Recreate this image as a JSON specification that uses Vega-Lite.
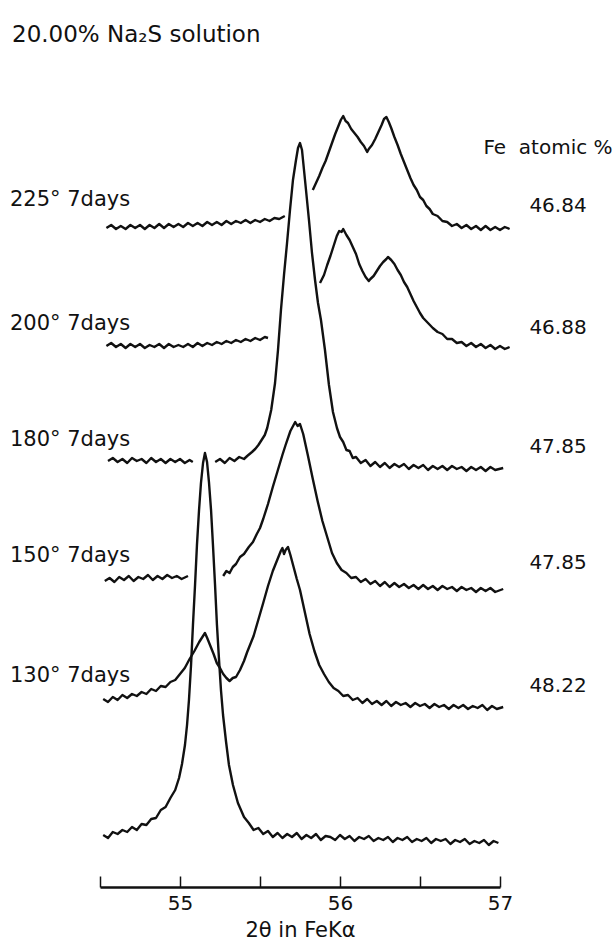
{
"$schema": "https://vega.github.io/schema/vega-lite/v6.json",
"width": 400, "height": 827,
"autosize": {"type": "none"},
"padding": {"left": 100, "top": 60, "right": 113, "bottom": 53},
"background": "white",
"config": {"view": {"stroke": null}, "font": "DejaVu Sans"},
"title": {"text": "20.00% Na₂S  solution", "anchor": "start", "frame": "group", "dx": -88, "offset": 13, "fontSize": 23, "fontWeight": "normal", "color": "#111", "font": "DejaVu Sans"},
"datasets": {
"traces": [
{"seg":"ref","x":54.52,"y":52},{"seg":"ref","x":54.55,"y":49},{"seg":"ref","x":54.58,"y":55},{"seg":"ref","x":54.61,"y":53},{"seg":"ref","x":54.64,"y":57},{"seg":"ref","x":54.67,"y":55},{"seg":"ref","x":54.70,"y":60},{"seg":"ref","x":54.73,"y":57},{"seg":"ref","x":54.76,"y":63},{"seg":"ref","x":54.79,"y":62},{"seg":"ref","x":54.82,"y":68},{"seg":"ref","x":54.85,"y":69},{"seg":"ref","x":54.88,"y":77},{"seg":"ref","x":54.91,"y":80},{"seg":"ref","x":54.94,"y":89},{"seg":"ref","x":54.97,"y":97},{"seg":"ref","x":54.994,"y":109},{"seg":"ref","x":55.0125,"y":123},{"seg":"ref","x":55.031,"y":142},{"seg":"ref","x":55.044,"y":162},{"seg":"ref","x":55.056,"y":187},{"seg":"ref","x":55.069,"y":222},{"seg":"ref","x":55.081,"y":262},{"seg":"ref","x":55.094,"y":302},{"seg":"ref","x":55.106,"y":342},{"seg":"ref","x":55.119,"y":377},{"seg":"ref","x":55.131,"y":404},{"seg":"ref","x":55.144,"y":424},{"seg":"ref","x":55.156,"y":434},{"seg":"ref","x":55.169,"y":425},{"seg":"ref","x":55.181,"y":405},{"seg":"ref","x":55.194,"y":377},{"seg":"ref","x":55.206,"y":342},{"seg":"ref","x":55.219,"y":302},{"seg":"ref","x":55.231,"y":262},{"seg":"ref","x":55.244,"y":227},{"seg":"ref","x":55.256,"y":197},{"seg":"ref","x":55.269,"y":172},{"seg":"ref","x":55.288,"y":145},{"seg":"ref","x":55.306,"y":122},{"seg":"ref","x":55.331,"y":102},{"seg":"ref","x":55.362,"y":84},{"seg":"ref","x":55.4,"y":70},{"seg":"ref","x":55.43,"y":64},{"seg":"ref","x":55.46,"y":57},{"seg":"ref","x":55.49,"y":59},{"seg":"ref","x":55.52,"y":53},{"seg":"ref","x":55.55,"y":56},{"seg":"ref","x":55.58,"y":50},{"seg":"ref","x":55.61,"y":54},{"seg":"ref","x":55.64,"y":49},{"seg":"ref","x":55.67,"y":53},{"seg":"ref","x":55.70,"y":50},{"seg":"ref","x":55.73,"y":54},{"seg":"ref","x":55.76,"y":48},{"seg":"ref","x":55.79,"y":52},{"seg":"ref","x":55.82,"y":49},{"seg":"ref","x":55.85,"y":53},{"seg":"ref","x":55.88,"y":47},{"seg":"ref","x":55.91,"y":51},{"seg":"ref","x":55.94,"y":50},{"seg":"ref","x":55.97,"y":47},{"seg":"ref","x":56.00,"y":52},{"seg":"ref","x":56.03,"y":48},{"seg":"ref","x":56.06,"y":51},{"seg":"ref","x":56.09,"y":46},{"seg":"ref","x":56.12,"y":50},{"seg":"ref","x":56.15,"y":48},{"seg":"ref","x":56.18,"y":51},{"seg":"ref","x":56.21,"y":46},{"seg":"ref","x":56.24,"y":49},{"seg":"ref","x":56.27,"y":47},{"seg":"ref","x":56.30,"y":50},{"seg":"ref","x":56.33,"y":45},{"seg":"ref","x":56.36,"y":49},{"seg":"ref","x":56.39,"y":47},{"seg":"ref","x":56.42,"y":50},{"seg":"ref","x":56.45,"y":45},{"seg":"ref","x":56.48,"y":48},{"seg":"ref","x":56.51,"y":46},{"seg":"ref","x":56.54,"y":49},{"seg":"ref","x":56.57,"y":44},{"seg":"ref","x":56.60,"y":48},{"seg":"ref","x":56.63,"y":46},{"seg":"ref","x":56.66,"y":48},{"seg":"ref","x":56.69,"y":43},{"seg":"ref","x":56.72,"y":47},{"seg":"ref","x":56.75,"y":45},{"seg":"ref","x":56.78,"y":48},{"seg":"ref","x":56.81,"y":43},{"seg":"ref","x":56.84,"y":46},{"seg":"ref","x":56.87,"y":44},{"seg":"ref","x":56.90,"y":47},{"seg":"ref","x":56.93,"y":42},{"seg":"ref","x":56.96,"y":46},{"seg":"ref","x":56.99,"y":44},
{"seg":"130","x":54.52,"y":188},{"seg":"130","x":54.55,"y":185},{"seg":"130","x":54.58,"y":190},{"seg":"130","x":54.61,"y":187},{"seg":"130","x":54.64,"y":192},{"seg":"130","x":54.67,"y":189},{"seg":"130","x":54.70,"y":193},{"seg":"130","x":54.73,"y":191},{"seg":"130","x":54.76,"y":195},{"seg":"130","x":54.79,"y":193},{"seg":"130","x":54.82,"y":198},{"seg":"130","x":54.85,"y":196},{"seg":"130","x":54.88,"y":201},{"seg":"130","x":54.91,"y":200},{"seg":"130","x":54.94,"y":205},{"seg":"130","x":54.97,"y":207},{"seg":"130","x":55.00,"y":213},{"seg":"130","x":55.03,"y":219},{"seg":"130","x":55.06,"y":228},{"seg":"130","x":55.09,"y":236},{"seg":"130","x":55.12,"y":245},{"seg":"130","x":55.14,"y":250},{"seg":"130","x":55.156,"y":254},{"seg":"130","x":55.17,"y":249},{"seg":"130","x":55.19,"y":241},{"seg":"130","x":55.21,"y":233},{"seg":"130","x":55.23,"y":224},{"seg":"130","x":55.25,"y":219},{"seg":"130","x":55.27,"y":213},{"seg":"130","x":55.29,"y":209},{"seg":"130","x":55.31,"y":206},{"seg":"130","x":55.33,"y":209},{"seg":"130","x":55.35,"y":210},{"seg":"130","x":55.375,"y":217},{"seg":"130","x":55.40,"y":226},{"seg":"130","x":55.42,"y":235},{"seg":"130","x":55.44,"y":243},{"seg":"130","x":55.46,"y":251},{"seg":"130","x":55.48,"y":262},{"seg":"130","x":55.50,"y":273},{"seg":"130","x":55.52,"y":284},{"seg":"130","x":55.55,"y":301},{"seg":"130","x":55.58,"y":316},{"seg":"130","x":55.61,"y":328},{"seg":"130","x":55.63,"y":336},{"seg":"130","x":55.64,"y":339},{"seg":"130","x":55.65,"y":333},{"seg":"130","x":55.66,"y":337},{"seg":"130","x":55.675,"y":340},{"seg":"130","x":55.69,"y":332},{"seg":"130","x":55.71,"y":320},{"seg":"130","x":55.73,"y":308},{"seg":"130","x":55.75,"y":297},{"seg":"130","x":55.78,"y":275},{"seg":"130","x":55.81,"y":253},{"seg":"130","x":55.84,"y":236},{"seg":"130","x":55.87,"y":222},{"seg":"130","x":55.90,"y":213},{"seg":"130","x":55.93,"y":205},{"seg":"130","x":55.96,"y":199},{"seg":"130","x":55.99,"y":196},{"seg":"130","x":56.02,"y":191},{"seg":"130","x":56.05,"y":192},{"seg":"130","x":56.08,"y":187},{"seg":"130","x":56.11,"y":189},{"seg":"130","x":56.14,"y":184},{"seg":"130","x":56.17,"y":188},{"seg":"130","x":56.20,"y":183},{"seg":"130","x":56.23,"y":186},{"seg":"130","x":56.26,"y":182},{"seg":"130","x":56.29,"y":186},{"seg":"130","x":56.32,"y":181},{"seg":"130","x":56.35,"y":185},{"seg":"130","x":56.38,"y":182},{"seg":"130","x":56.41,"y":184},{"seg":"130","x":56.44,"y":180},{"seg":"130","x":56.47,"y":184},{"seg":"130","x":56.50,"y":181},{"seg":"130","x":56.53,"y":183},{"seg":"130","x":56.56,"y":179},{"seg":"130","x":56.59,"y":183},{"seg":"130","x":56.62,"y":180},{"seg":"130","x":56.65,"y":182},{"seg":"130","x":56.68,"y":178},{"seg":"130","x":56.71,"y":182},{"seg":"130","x":56.74,"y":179},{"seg":"130","x":56.77,"y":182},{"seg":"130","x":56.80,"y":178},{"seg":"130","x":56.83,"y":181},{"seg":"130","x":56.86,"y":179},{"seg":"130","x":56.89,"y":182},{"seg":"130","x":56.92,"y":177},{"seg":"130","x":56.95,"y":181},{"seg":"130","x":56.98,"y":178},{"seg":"130","x":57.02,"y":180},
{"seg":"150a","x":54.53,"y":306},{"seg":"150a","x":54.56,"y":309},{"seg":"150a","x":54.59,"y":305},{"seg":"150a","x":54.62,"y":310},{"seg":"150a","x":54.65,"y":307},{"seg":"150a","x":54.68,"y":311},{"seg":"150a","x":54.71,"y":306},{"seg":"150a","x":54.74,"y":310},{"seg":"150a","x":54.77,"y":308},{"seg":"150a","x":54.80,"y":312},{"seg":"150a","x":54.83,"y":307},{"seg":"150a","x":54.86,"y":311},{"seg":"150a","x":54.89,"y":308},{"seg":"150a","x":54.92,"y":312},{"seg":"150a","x":54.95,"y":309},{"seg":"150a","x":54.98,"y":311},{"seg":"150a","x":55.01,"y":308},{"seg":"150a","x":55.05,"y":311},
{"seg":"150b","x":55.27,"y":311},{"seg":"150b","x":55.29,"y":316},{"seg":"150b","x":55.31,"y":314},{"seg":"150b","x":55.33,"y":320},{"seg":"150b","x":55.35,"y":323},{"seg":"150b","x":55.375,"y":330},{"seg":"150b","x":55.40,"y":333},{"seg":"150b","x":55.43,"y":340},{"seg":"150b","x":55.456,"y":345},{"seg":"150b","x":55.48,"y":353},{"seg":"150b","x":55.50,"y":359},{"seg":"150b","x":55.52,"y":368},{"seg":"150b","x":55.55,"y":383},{"seg":"150b","x":55.58,"y":400},{"seg":"150b","x":55.61,"y":416},{"seg":"150b","x":55.64,"y":432},{"seg":"150b","x":55.66,"y":442},{"seg":"150b","x":55.69,"y":456},{"seg":"150b","x":55.71,"y":462},{"seg":"150b","x":55.72,"y":465},{"seg":"150b","x":55.735,"y":461},{"seg":"150b","x":55.75,"y":463},{"seg":"150b","x":55.77,"y":453},{"seg":"150b","x":55.80,"y":431},{"seg":"150b","x":55.83,"y":408},{"seg":"150b","x":55.86,"y":386},{"seg":"150b","x":55.89,"y":366},{"seg":"150b","x":55.92,"y":350},{"seg":"150b","x":55.95,"y":334},{"seg":"150b","x":55.98,"y":324},{"seg":"150b","x":56.01,"y":317},{"seg":"150b","x":56.04,"y":314},{"seg":"150b","x":56.07,"y":309},{"seg":"150b","x":56.10,"y":310},{"seg":"150b","x":56.13,"y":305},{"seg":"150b","x":56.16,"y":308},{"seg":"150b","x":56.19,"y":303},{"seg":"150b","x":56.22,"y":306},{"seg":"150b","x":56.25,"y":301},{"seg":"150b","x":56.28,"y":305},{"seg":"150b","x":56.31,"y":300},{"seg":"150b","x":56.34,"y":304},{"seg":"150b","x":56.37,"y":300},{"seg":"150b","x":56.40,"y":303},{"seg":"150b","x":56.43,"y":299},{"seg":"150b","x":56.46,"y":302},{"seg":"150b","x":56.49,"y":298},{"seg":"150b","x":56.52,"y":302},{"seg":"150b","x":56.55,"y":298},{"seg":"150b","x":56.58,"y":301},{"seg":"150b","x":56.61,"y":297},{"seg":"150b","x":56.64,"y":301},{"seg":"150b","x":56.67,"y":298},{"seg":"150b","x":56.70,"y":300},{"seg":"150b","x":56.73,"y":296},{"seg":"150b","x":56.76,"y":300},{"seg":"150b","x":56.79,"y":297},{"seg":"150b","x":56.82,"y":299},{"seg":"150b","x":56.85,"y":295},{"seg":"150b","x":56.88,"y":299},{"seg":"150b","x":56.91,"y":296},{"seg":"150b","x":56.94,"y":299},{"seg":"150b","x":56.97,"y":295},{"seg":"150b","x":57.02,"y":298},
{"seg":"180a","x":54.55,"y":426},{"seg":"180a","x":54.58,"y":429},{"seg":"180a","x":54.61,"y":425},{"seg":"180a","x":54.64,"y":428},{"seg":"180a","x":54.67,"y":424},{"seg":"180a","x":54.70,"y":429},{"seg":"180a","x":54.73,"y":426},{"seg":"180a","x":54.76,"y":428},{"seg":"180a","x":54.79,"y":424},{"seg":"180a","x":54.82,"y":429},{"seg":"180a","x":54.85,"y":425},{"seg":"180a","x":54.88,"y":428},{"seg":"180a","x":54.91,"y":424},{"seg":"180a","x":54.94,"y":428},{"seg":"180a","x":54.97,"y":425},{"seg":"180a","x":55.00,"y":428},{"seg":"180a","x":55.03,"y":424},{"seg":"180a","x":55.06,"y":427},{"seg":"180a","x":55.08,"y":425},
{"seg":"180b","x":55.22,"y":425},{"seg":"180b","x":55.25,"y":428},{"seg":"180b","x":55.28,"y":424},{"seg":"180b","x":55.31,"y":429},{"seg":"180b","x":55.34,"y":426},{"seg":"180b","x":55.37,"y":430},{"seg":"180b","x":55.40,"y":428},{"seg":"180b","x":55.42,"y":431},{"seg":"180b","x":55.45,"y":435},{"seg":"180b","x":55.47,"y":438},{"seg":"180b","x":55.49,"y":442},{"seg":"180b","x":55.51,"y":447},{"seg":"180b","x":55.53,"y":452},{"seg":"180b","x":55.545,"y":459},{"seg":"180b","x":55.57,"y":477},{"seg":"180b","x":55.594,"y":504},{"seg":"180b","x":55.6125,"y":537},{"seg":"180b","x":55.631,"y":577},{"seg":"180b","x":55.65,"y":612},{"seg":"180b","x":55.669,"y":644},{"seg":"180b","x":55.6875,"y":677},{"seg":"180b","x":55.706,"y":707},{"seg":"180b","x":55.725,"y":727},{"seg":"180b","x":55.7375,"y":739},{"seg":"180b","x":55.75,"y":744},{"seg":"180b","x":55.7625,"y":737},{"seg":"180b","x":55.775,"y":717},{"seg":"180b","x":55.7875,"y":697},{"seg":"180b","x":55.806,"y":667},{"seg":"180b","x":55.825,"y":634},{"seg":"180b","x":55.844,"y":607},{"seg":"180b","x":55.8625,"y":584},{"seg":"180b","x":55.881,"y":567},{"seg":"180b","x":55.906,"y":537},{"seg":"180b","x":55.931,"y":502},{"seg":"180b","x":55.956,"y":475},{"seg":"180b","x":55.981,"y":459},{"seg":"180b","x":56.00,"y":450},{"seg":"180b","x":56.02,"y":445},{"seg":"180b","x":56.04,"y":437},{"seg":"180b","x":56.06,"y":436},{"seg":"180b","x":56.08,"y":429},{"seg":"180b","x":56.10,"y":430},{"seg":"180b","x":56.13,"y":424},{"seg":"180b","x":56.16,"y":427},{"seg":"180b","x":56.19,"y":421},{"seg":"180b","x":56.22,"y":425},{"seg":"180b","x":56.25,"y":420},{"seg":"180b","x":56.28,"y":424},{"seg":"180b","x":56.31,"y":419},{"seg":"180b","x":56.34,"y":423},{"seg":"180b","x":56.37,"y":420},{"seg":"180b","x":56.40,"y":423},{"seg":"180b","x":56.43,"y":418},{"seg":"180b","x":56.46,"y":422},{"seg":"180b","x":56.49,"y":419},{"seg":"180b","x":56.52,"y":422},{"seg":"180b","x":56.55,"y":417},{"seg":"180b","x":56.58,"y":421},{"seg":"180b","x":56.61,"y":418},{"seg":"180b","x":56.64,"y":421},{"seg":"180b","x":56.67,"y":417},{"seg":"180b","x":56.70,"y":421},{"seg":"180b","x":56.73,"y":418},{"seg":"180b","x":56.76,"y":420},{"seg":"180b","x":56.79,"y":416},{"seg":"180b","x":56.82,"y":420},{"seg":"180b","x":56.85,"y":417},{"seg":"180b","x":56.88,"y":420},{"seg":"180b","x":56.91,"y":416},{"seg":"180b","x":56.94,"y":420},{"seg":"180b","x":56.97,"y":417},{"seg":"180b","x":57.02,"y":419},
{"seg":"200a","x":54.54,"y":541},{"seg":"200a","x":54.57,"y":544},{"seg":"200a","x":54.60,"y":540},{"seg":"200a","x":54.63,"y":543},{"seg":"200a","x":54.66,"y":539},{"seg":"200a","x":54.69,"y":543},{"seg":"200a","x":54.72,"y":540},{"seg":"200a","x":54.75,"y":543},{"seg":"200a","x":54.78,"y":539},{"seg":"200a","x":54.81,"y":542},{"seg":"200a","x":54.84,"y":540},{"seg":"200a","x":54.87,"y":543},{"seg":"200a","x":54.90,"y":539},{"seg":"200a","x":54.93,"y":543},{"seg":"200a","x":54.96,"y":540},{"seg":"200a","x":54.99,"y":542},{"seg":"200a","x":55.02,"y":540},{"seg":"200a","x":55.05,"y":543},{"seg":"200a","x":55.08,"y":540},{"seg":"200a","x":55.11,"y":544},{"seg":"200a","x":55.14,"y":541},{"seg":"200a","x":55.17,"y":544},{"seg":"200a","x":55.20,"y":542},{"seg":"200a","x":55.23,"y":545},{"seg":"200a","x":55.26,"y":543},{"seg":"200a","x":55.29,"y":546},{"seg":"200a","x":55.32,"y":544},{"seg":"200a","x":55.35,"y":547},{"seg":"200a","x":55.38,"y":545},{"seg":"200a","x":55.41,"y":548},{"seg":"200a","x":55.44,"y":546},{"seg":"200a","x":55.47,"y":549},{"seg":"200a","x":55.50,"y":547},{"seg":"200a","x":55.53,"y":550},{"seg":"200a","x":55.55,"y":549},
{"seg":"200b","x":55.875,"y":604},{"seg":"200b","x":55.90,"y":612},{"seg":"200b","x":55.92,"y":622},{"seg":"200b","x":55.94,"y":631},{"seg":"200b","x":55.96,"y":641},{"seg":"200b","x":55.98,"y":651},{"seg":"200b","x":55.995,"y":656},{"seg":"200b","x":56.01,"y":655},{"seg":"200b","x":56.02,"y":658},{"seg":"200b","x":56.04,"y":652},{"seg":"200b","x":56.06,"y":647},{"seg":"200b","x":56.08,"y":640},{"seg":"200b","x":56.10,"y":633},{"seg":"200b","x":56.12,"y":623},{"seg":"200b","x":56.14,"y":616},{"seg":"200b","x":56.16,"y":610},{"seg":"200b","x":56.18,"y":606},{"seg":"200b","x":56.19,"y":608},{"seg":"200b","x":56.21,"y":611},{"seg":"200b","x":56.23,"y":616},{"seg":"200b","x":56.25,"y":621},{"seg":"200b","x":56.27,"y":625},{"seg":"200b","x":56.29,"y":628},{"seg":"200b","x":56.30,"y":630},{"seg":"200b","x":56.32,"y":627},{"seg":"200b","x":56.34,"y":623},{"seg":"200b","x":56.36,"y":617},{"seg":"200b","x":56.38,"y":612},{"seg":"200b","x":56.40,"y":605},{"seg":"200b","x":56.42,"y":600},{"seg":"200b","x":56.44,"y":593},{"seg":"200b","x":56.46,"y":586},{"seg":"200b","x":56.48,"y":580},{"seg":"200b","x":56.50,"y":574},{"seg":"200b","x":56.52,"y":569},{"seg":"200b","x":56.55,"y":564},{"seg":"200b","x":56.58,"y":559},{"seg":"200b","x":56.61,"y":555},{"seg":"200b","x":56.64,"y":553},{"seg":"200b","x":56.67,"y":548},{"seg":"200b","x":56.70,"y":548},{"seg":"200b","x":56.73,"y":544},{"seg":"200b","x":56.76,"y":545},{"seg":"200b","x":56.79,"y":541},{"seg":"200b","x":56.82,"y":544},{"seg":"200b","x":56.85,"y":540},{"seg":"200b","x":56.88,"y":543},{"seg":"200b","x":56.91,"y":539},{"seg":"200b","x":56.94,"y":542},{"seg":"200b","x":56.97,"y":538},{"seg":"200b","x":57.00,"y":541},{"seg":"200b","x":57.03,"y":538},{"seg":"200b","x":57.06,"y":540},
{"seg":"225a","x":54.54,"y":659},{"seg":"225a","x":54.57,"y":662},{"seg":"225a","x":54.60,"y":658},{"seg":"225a","x":54.63,"y":661},{"seg":"225a","x":54.66,"y":658},{"seg":"225a","x":54.69,"y":662},{"seg":"225a","x":54.72,"y":659},{"seg":"225a","x":54.75,"y":662},{"seg":"225a","x":54.78,"y":658},{"seg":"225a","x":54.81,"y":662},{"seg":"225a","x":54.84,"y":659},{"seg":"225a","x":54.87,"y":663},{"seg":"225a","x":54.90,"y":659},{"seg":"225a","x":54.93,"y":663},{"seg":"225a","x":54.96,"y":660},{"seg":"225a","x":54.99,"y":663},{"seg":"225a","x":55.02,"y":660},{"seg":"225a","x":55.05,"y":664},{"seg":"225a","x":55.08,"y":661},{"seg":"225a","x":55.11,"y":664},{"seg":"225a","x":55.14,"y":661},{"seg":"225a","x":55.17,"y":665},{"seg":"225a","x":55.20,"y":662},{"seg":"225a","x":55.23,"y":665},{"seg":"225a","x":55.26,"y":662},{"seg":"225a","x":55.29,"y":666},{"seg":"225a","x":55.32,"y":663},{"seg":"225a","x":55.35,"y":666},{"seg":"225a","x":55.38,"y":664},{"seg":"225a","x":55.41,"y":667},{"seg":"225a","x":55.44,"y":664},{"seg":"225a","x":55.47,"y":667},{"seg":"225a","x":55.50,"y":665},{"seg":"225a","x":55.53,"y":668},{"seg":"225a","x":55.56,"y":666},{"seg":"225a","x":55.59,"y":669},{"seg":"225a","x":55.62,"y":668},{"seg":"225a","x":55.655,"y":671},
{"seg":"225b","x":55.83,"y":697},{"seg":"225b","x":55.85,"y":704},{"seg":"225b","x":55.87,"y":711},{"seg":"225b","x":55.89,"y":719},{"seg":"225b","x":55.91,"y":726},{"seg":"225b","x":55.93,"y":735},{"seg":"225b","x":55.95,"y":744},{"seg":"225b","x":55.97,"y":753},{"seg":"225b","x":55.99,"y":761},{"seg":"225b","x":56.005,"y":767},{"seg":"225b","x":56.02,"y":771},{"seg":"225b","x":56.035,"y":766},{"seg":"225b","x":56.05,"y":764},{"seg":"225b","x":56.07,"y":758},{"seg":"225b","x":56.09,"y":754},{"seg":"225b","x":56.11,"y":750},{"seg":"225b","x":56.13,"y":745},{"seg":"225b","x":56.15,"y":741},{"seg":"225b","x":56.17,"y":735},{"seg":"225b","x":56.18,"y":738},{"seg":"225b","x":56.20,"y":742},{"seg":"225b","x":56.22,"y":748},{"seg":"225b","x":56.24,"y":755},{"seg":"225b","x":56.26,"y":762},{"seg":"225b","x":56.275,"y":768},{"seg":"225b","x":56.29,"y":770},{"seg":"225b","x":56.305,"y":765},{"seg":"225b","x":56.32,"y":759},{"seg":"225b","x":56.34,"y":750},{"seg":"225b","x":56.36,"y":742},{"seg":"225b","x":56.38,"y":733},{"seg":"225b","x":56.40,"y":725},{"seg":"225b","x":56.42,"y":717},{"seg":"225b","x":56.44,"y":709},{"seg":"225b","x":56.46,"y":702},{"seg":"225b","x":56.48,"y":697},{"seg":"225b","x":56.50,"y":690},{"seg":"225b","x":56.52,"y":687},{"seg":"225b","x":56.54,"y":681},{"seg":"225b","x":56.56,"y":678},{"seg":"225b","x":56.58,"y":673},{"seg":"225b","x":56.61,"y":671},{"seg":"225b","x":56.64,"y":666},{"seg":"225b","x":56.67,"y":665},{"seg":"225b","x":56.70,"y":661},{"seg":"225b","x":56.73,"y":663},{"seg":"225b","x":56.76,"y":659},{"seg":"225b","x":56.79,"y":662},{"seg":"225b","x":56.82,"y":658},{"seg":"225b","x":56.85,"y":661},{"seg":"225b","x":56.88,"y":657},{"seg":"225b","x":56.91,"y":661},{"seg":"225b","x":56.94,"y":657},{"seg":"225b","x":56.97,"y":660},{"seg":"225b","x":57.00,"y":657},{"seg":"225b","x":57.03,"y":660},{"seg":"225b","x":57.06,"y":658}
],
"leftLabels": [
{"label":"225° 7days","x":53.9375,"y":687},
{"label":"200° 7days","x":53.9375,"y":563},
{"label":"180° 7days","x":53.9375,"y":447},
{"label":"150° 7days","x":53.9375,"y":331},
{"label":"130° 7days","x":53.9375,"y":211}
],
"rightLabels": [
{"label":"Fe\u00a0 atomic %","x":57.3,"y":739},
{"label":"46.84","x":57.3625,"y":681},
{"label":"46.88","x":57.3625,"y":559},
{"label":"47.85","x":57.3625,"y":440},
{"label":"47.85","x":57.3625,"y":324},
{"label":"48.22","x":57.3625,"y":201}
]
},
"layer": [
{"data": {"name": "traces"},
 "mark": {"type": "line", "color": "#111", "strokeWidth": 2.4, "strokeJoin": "round", "clip": false},
 "encoding": {
  "x": {"field": "x", "type": "quantitative", "scale": {"domain": [54.5, 57], "nice": false, "zero": false},
   "axis": {"values": [54.5, 55, 55.5, 56, 56.5, 57], "labelExpr": "datum.value % 1 == 0 ? format(datum.value, 'd') : ''", "tickSize": -11, "tickColor": "#111", "tickWidth": 1.5, "domainColor": "#111", "domainWidth": 2.4, "labelFontSize": 20, "labelColor": "#111", "labelPadding": 17, "labelFont": "DejaVu Sans", "labelOverlap": false, "labelFlush": false, "grid": false, "title": "2θ in FeKα", "titleFont": "DejaVu Sans", "titleFontSize": 21, "titleFontWeight": "normal", "titleColor": "#111", "titlePadding": 6}},
  "y": {"field": "y", "type": "quantitative", "scale": {"domain": [0, 827], "nice": false, "zero": false}, "axis": null},
  "detail": {"field": "seg"}
 }},
{"data": {"name": "leftLabels"},
 "mark": {"type": "text", "align": "left", "baseline": "middle", "fontSize": 21, "color": "#111", "font": "DejaVu Sans"},
 "encoding": {
  "x": {"field": "x", "type": "quantitative", "scale": {"domain": [54.5, 57], "nice": false, "zero": false}},
  "y": {"field": "y", "type": "quantitative", "scale": {"domain": [0, 827], "nice": false, "zero": false}},
  "text": {"field": "label"}
 }},
{"data": {"name": "rightLabels"},
 "mark": {"type": "text", "align": "center", "baseline": "middle", "fontSize": 20, "color": "#111", "font": "DejaVu Sans"},
 "encoding": {
  "x": {"field": "x", "type": "quantitative", "scale": {"domain": [54.5, 57], "nice": false, "zero": false}},
  "y": {"field": "y", "type": "quantitative", "scale": {"domain": [0, 827], "nice": false, "zero": false}},
  "text": {"field": "label"}
 }}
]
}
